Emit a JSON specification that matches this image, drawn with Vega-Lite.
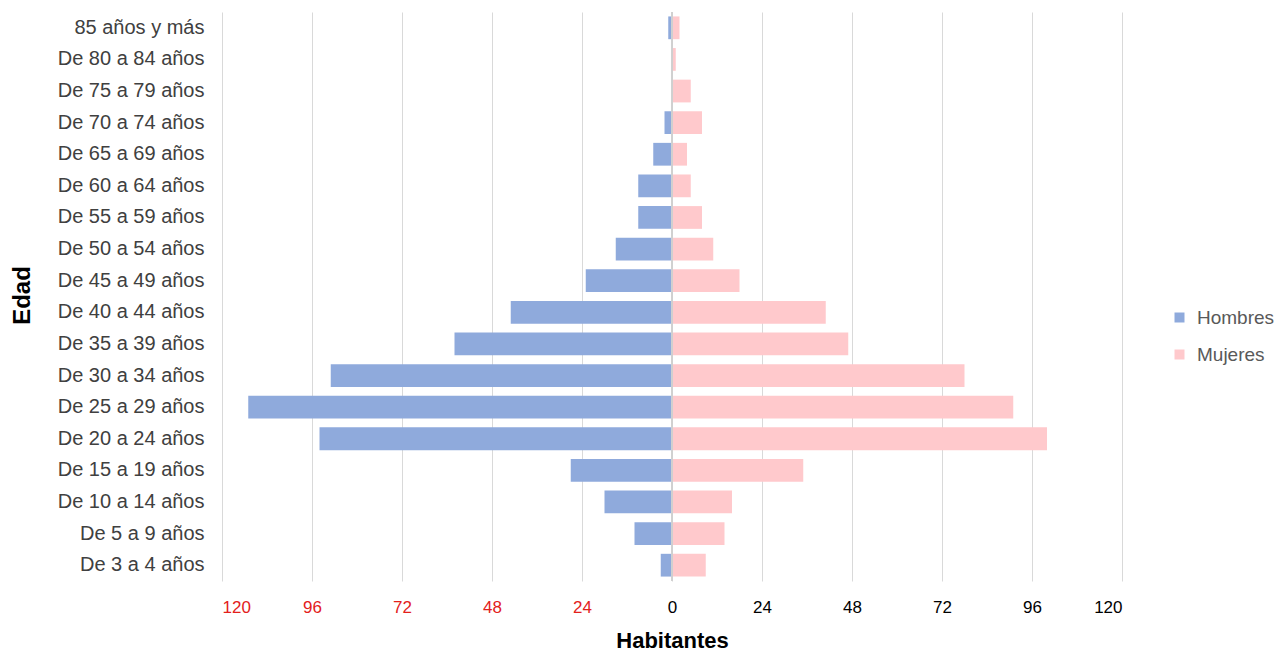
{
  "$schema": "https://vega.github.io/schema/vega-lite/v6.json",
  "width": 900,
  "height": 569,
  "autosize": {"type": "none"},
  "padding": {"left": 222, "top": 12, "right": 159, "bottom": 70},
  "background": "white",
  "config": {
    "view": {"stroke": null},
    "font": "Liberation Sans"
  },
  "data": {
    "values": [
      {"edad": "85 años y más", "sexo": "Hombres", "habitantes": -1},
      {"edad": "85 años y más", "sexo": "Mujeres", "habitantes": 2},
      {"edad": "De 80 a 84 años", "sexo": "Hombres", "habitantes": 0},
      {"edad": "De 80 a 84 años", "sexo": "Mujeres", "habitantes": 1},
      {"edad": "De 75 a 79 años", "sexo": "Hombres", "habitantes": 0},
      {"edad": "De 75 a 79 años", "sexo": "Mujeres", "habitantes": 5},
      {"edad": "De 70 a 74 años", "sexo": "Hombres", "habitantes": -2},
      {"edad": "De 70 a 74 años", "sexo": "Mujeres", "habitantes": 8},
      {"edad": "De 65 a 69 años", "sexo": "Hombres", "habitantes": -5},
      {"edad": "De 65 a 69 años", "sexo": "Mujeres", "habitantes": 4},
      {"edad": "De 60 a 64 años", "sexo": "Hombres", "habitantes": -9},
      {"edad": "De 60 a 64 años", "sexo": "Mujeres", "habitantes": 5},
      {"edad": "De 55 a 59 años", "sexo": "Hombres", "habitantes": -9},
      {"edad": "De 55 a 59 años", "sexo": "Mujeres", "habitantes": 8},
      {"edad": "De 50 a 54 años", "sexo": "Hombres", "habitantes": -15},
      {"edad": "De 50 a 54 años", "sexo": "Mujeres", "habitantes": 11},
      {"edad": "De 45 a 49 años", "sexo": "Hombres", "habitantes": -23},
      {"edad": "De 45 a 49 años", "sexo": "Mujeres", "habitantes": 18},
      {"edad": "De 40 a 44 años", "sexo": "Hombres", "habitantes": -43},
      {"edad": "De 40 a 44 años", "sexo": "Mujeres", "habitantes": 41},
      {"edad": "De 35 a 39 años", "sexo": "Hombres", "habitantes": -58},
      {"edad": "De 35 a 39 años", "sexo": "Mujeres", "habitantes": 47},
      {"edad": "De 30 a 34 años", "sexo": "Hombres", "habitantes": -91},
      {"edad": "De 30 a 34 años", "sexo": "Mujeres", "habitantes": 78},
      {"edad": "De 25 a 29 años", "sexo": "Hombres", "habitantes": -113},
      {"edad": "De 25 a 29 años", "sexo": "Mujeres", "habitantes": 91},
      {"edad": "De 20 a 24 años", "sexo": "Hombres", "habitantes": -94},
      {"edad": "De 20 a 24 años", "sexo": "Mujeres", "habitantes": 100},
      {"edad": "De 15 a 19 años", "sexo": "Hombres", "habitantes": -27},
      {"edad": "De 15 a 19 años", "sexo": "Mujeres", "habitantes": 35},
      {"edad": "De 10 a 14 años", "sexo": "Hombres", "habitantes": -18},
      {"edad": "De 10 a 14 años", "sexo": "Mujeres", "habitantes": 16},
      {"edad": "De 5 a 9 años", "sexo": "Hombres", "habitantes": -10},
      {"edad": "De 5 a 9 años", "sexo": "Mujeres", "habitantes": 14},
      {"edad": "De 3 a 4 años", "sexo": "Hombres", "habitantes": -3},
      {"edad": "De 3 a 4 años", "sexo": "Mujeres", "habitantes": 9}
    ]
  },
  "layer": [
    {
      "mark": {"type": "bar"},
      "encoding": {
        "y": {
          "field": "edad",
          "type": "nominal",
          "sort": ["85 años y más", "De 80 a 84 años", "De 75 a 79 años", "De 70 a 74 años", "De 65 a 69 años", "De 60 a 64 años", "De 55 a 59 años", "De 50 a 54 años", "De 45 a 49 años", "De 40 a 44 años", "De 35 a 39 años", "De 30 a 34 años", "De 25 a 29 años", "De 20 a 24 años", "De 15 a 19 años", "De 10 a 14 años", "De 5 a 9 años", "De 3 a 4 años"],
          "scale": {"paddingInner": 0.28, "paddingOuter": 0.14},
          "axis": {
            "title": "Edad",
            "titleFont": "Liberation Sans",
            "titleFontSize": 24,
            "titleFontWeight": "bold",
            "titleColor": "#000000",
            "titleAngle": -90,
            "titleX": -200,
            "titleY": 283,
            "titleAlign": "center",
            "titleBaseline": "middle",
            "labelFont": "Liberation Sans",
            "labelFontSize": 20,
            "labelColor": "#404040",
            "labelPadding": 18,
            "ticks": false,
            "domain": false,
            "grid": false
          }
        },
        "x": {
          "field": "habitantes",
          "type": "quantitative",
          "scale": {"domain": [-120, 120], "nice": false},
          "axis": {
            "title": "Habitantes",
            "titleFont": "Liberation Sans",
            "titleFontSize": 22,
            "titleFontWeight": "bold",
            "titleColor": "#000000",
            "titlePadding": 15,
            "values": [-120, -96, -72, -48, -24, 0, 24, 48, 72, 96, 120],
            "labelExpr": "abs(datum.value)",
            "labelFont": "Liberation Sans",
            "labelFontSize": 17,
            "labelColor": {"condition": {"test": "datum.value < 0", "value": "#e3201b"}, "value": "#000000"},
            "labelPadding": 18,
            "ticks": false,
            "domain": false,
            "grid": true,
            "gridColor": "#d9d9d9",
            "gridWidth": 1
          }
        },
        "color": {
          "field": "sexo",
          "type": "nominal",
          "scale": {"domain": ["Hombres", "Mujeres"], "range": ["#8faadc", "#ffc9cc"]},
          "legend": {
            "title": null,
            "orient": "none",
            "legendX": 948,
            "legendY": 296,
            "padding": 0,
            "symbolType": "square",
            "symbolSize": 100,
            "symbolStrokeWidth": 0,
            "labelFont": "Liberation Sans",
            "labelFontSize": 19,
            "labelColor": "#595959",
            "labelOffset": 8,
            "rowPadding": 17
          }
        }
      }
    },
    {
      "mark": {"type": "rule", "color": "#d0d0d0", "strokeWidth": 1},
      "encoding": {"x": {"datum": 0}}
    }
  ]
}
